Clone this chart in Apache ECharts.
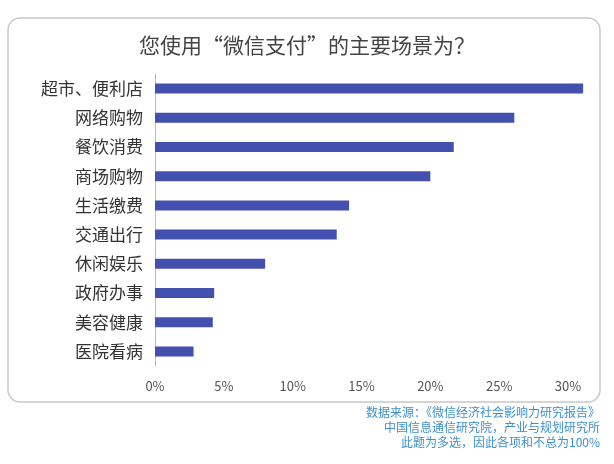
<!DOCTYPE html>
<html><head><meta charset="utf-8">
<script src="https://cdn.jsdelivr.net/npm/echarts@6/dist/echarts.min.js"></script>
<style>html,body{margin:0;background:#fff}#c{width:614px;height:464px}</style>
</head><body><div id="c"></div>
<script>
var categories = ['超市、便利店', '网络购物', '餐饮消费', '商场购物', '生活缴费', '交通出行', '休闲娱乐', '政府办事', '美容健康', '医院看病'];
var values = [31.1, 26.1, 21.7, 20.0, 14.1, 13.2, 8.0, 4.3, 4.2, 2.8];
var sourceLines = ['数据来源：《微信经济社会影响力研究报告》', '中国信息通信研究院，产业与规划研究所', '此题为多选，因此各项和不总为100%'];

var chart = echarts.init(document.getElementById('c'));
var font = 'Noto Sans CJK SC';
var option = {
  textStyle: { fontFamily: font },
  title: {
    text: '您使用“微信支付”的主要场景为？',
    left: 'center', top: 30,
    textStyle: { fontSize: 21, fontWeight: 'normal', color: '#444', fontFamily: font }
  },
  graphic: [
    {
      type: 'rect', shape: { x: 8, y: 18, width: 592, height: 384, r: 12 },
      style: { fill: 'none', stroke: '#c8c8c8', lineWidth: 1.5 }, z: -1
    },
    {
      type: 'text', right: 14, top: 405,
      style: { text: sourceLines.join('\n'), fill: '#3f8fd0', font: '12px "Noto Sans CJK SC"', textAlign: 'right', lineHeight: 15 }
    }
  ],
  grid: { left: 155, right: 46, top: 74, bottom: 98 },
  xAxis: {
    type: 'value', min: 0, max: 30, interval: 5,
    axisLabel: { formatter: '{value}%', color: '#555', fontSize: 13, margin: 14 },
    axisLine: { show: false }, axisTick: { show: false }, splitLine: { show: false }
  },
  yAxis: {
    type: 'category', data: categories, inverse: true,
    axisLabel: { color: '#333', fontSize: 17, margin: 12 },
    axisLine: { lineStyle: { color: '#bbb' } }, axisTick: { show: false }
  },
  series: [{
    type: 'bar', data: values, barWidth: 10, clip: false,
    itemStyle: { color: '#4350b0' }
  }]
};
chart.setOption(option);
</script></body></html>
